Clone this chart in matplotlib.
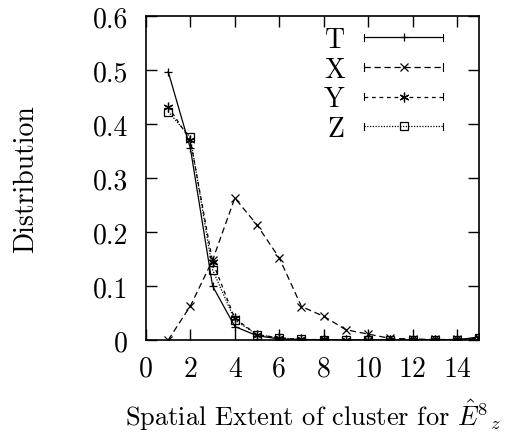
import numpy as np
import matplotlib
matplotlib.use('Agg')
import matplotlib.pyplot as plt
from matplotlib.legend_handler import HandlerLine2D
from matplotlib.lines import Line2D

plt.rcParams['font.family'] = 'serif'
plt.rcParams['font.serif'] = ['cmr10']
plt.rcParams['mathtext.fontset'] = 'cm'
plt.rcParams['axes.formatter.use_mathtext'] = True
plt.rcParams['axes.unicode_minus'] = False

# extent values
ext = [1, 2, 3, 4, 5, 6, 7, 8, 9, 10, 11, 12, 13, 14, 15]
t_vals = [0.497, 0.355, 0.100, 0.025, 0.008, 0.002, 0.001, 0.0, 0.0, 0.0, 0.0, 0.0, 0.0, 0.0, 0.006]
x_vals = [0.0, 0.063, 0.148, 0.263, 0.213, 0.152, 0.062, 0.044, 0.019, 0.011, 0.003, 0.002, 0.001, 0.001, 0.003]
y_vals = [0.432, 0.370, 0.145, 0.040, 0.010, 0.004, 0.001, 0.001, 0.0, 0.0, 0.0, 0.0, 0.0, 0.0, 0.003]
z_vals = [0.423, 0.375, 0.130, 0.037, 0.010, 0.004, 0.001, 0.0, 0.0, 0.0, 0.0, 0.0, 0.0, 0.0, 0.003]

xticks = [0, 2, 4, 6, 8, 10, 12, 14]
yticks = [0, 0.1, 0.2, 0.3, 0.4, 0.5, 0.6]
ytick_labels = ['0', '0.1', '0.2', '0.3', '0.4', '0.5', '0.6']


# gnuplot-like legend sample: line with small caps at both ends
class CapHandler(HandlerLine2D):
    def create_artists(self, legend, orig_handle, xdescent, ydescent, width, height,
                       fontsize, trans):
        artists = super().create_artists(legend, orig_handle, xdescent, ydescent,
                                         width, height, fontsize, trans)
        yc = height / 2.0 - ydescent
        x0, x1 = -xdescent, width - xdescent
        c = 2.6
        caps = Line2D([x0, x0, np.nan, x1, x1], [yc - c, yc + c, np.nan, yc - c, yc + c],
                      color='k', lw=0.8)
        caps.set_transform(trans)
        return list(artists) + [caps]


fig = plt.figure(figsize=(5.05, 4.35), dpi=100)
ax = fig.add_axes([0.289, 0.216, 0.660, 0.745])

lw = 0.9
ax.plot(ext, t_vals, color='k', lw=lw, ls='-', marker='+', ms=6, mew=0.9, label='T')
ax.plot(ext, x_vals, color='k', lw=lw, ls=(0, (5, 3)), marker='x', ms=6, mew=0.9, label='X')
ax.plot(ext, y_vals, color='k', lw=lw, ls=(0, (3, 3)), marker=(6, 2, 0), ms=7, mew=0.9, label='Y')
ax.plot(ext, z_vals, color='k', lw=lw, ls=(0, (1, 1.2)), marker='s', ms=6, mew=0.9,
        mfc='none', label='Z')

ax.set_xlim(0, 15)
ax.set_ylim(0, 0.6)
ax.set_xticks(xticks)
ax.set_xticklabels([str(v) for v in xticks])
ax.set_yticks(yticks)
ax.set_yticklabels(ytick_labels)
ax.tick_params(direction='in', top=True, right=True, length=8, width=1, labelsize=20)
ax.tick_params(axis='x', pad=11)
ax.tick_params(axis='y', pad=13)
for s in ax.spines.values():
    s.set_linewidth(1.2)

ax.set_ylabel('Distribution', fontsize=20, labelpad=38)
ax.set_xlabel(r'Spatial Extent of cluster for $\hat{E}^{8}{}_{z}$', fontsize=19, labelpad=11)

leg = ax.legend(loc='upper right', bbox_to_anchor=(0.892, 0.967), frameon=False, markerfirst=False,
                numpoints=1, handlelength=2.85, handletextpad=0.7, labelspacing=0.12,
                borderpad=0, borderaxespad=0, fontsize=20, handler_map={Line2D: CapHandler()})

fig.savefig('out.png', dpi=100)
